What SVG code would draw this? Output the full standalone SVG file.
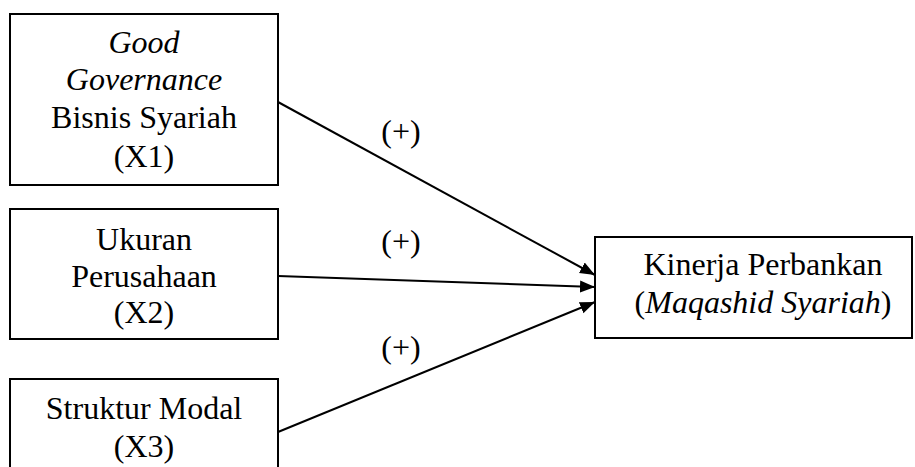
<svg xmlns="http://www.w3.org/2000/svg" width="915" height="467" viewBox="0 0 915 467">
<style>
.box{fill:#fff;stroke:#000;stroke-width:2}
.t{font-family:"Liberation Serif","Times New Roman",serif;font-size:32px;fill:#000;text-anchor:middle}
.i{font-style:italic}
.edge{stroke:#000;stroke-width:2;fill:none;marker-end:url(#ah)}
</style>
<defs>
<marker id="ah" markerUnits="userSpaceOnUse" markerWidth="16" markerHeight="14" refX="15" refY="7" orient="auto">
<path d="M0,1 L15,7 L0,13 Z" fill="#000"/>
</marker>
</defs>
<rect width="915" height="467" fill="#fff"/>
<g id="x1">
<rect class="box" x="10" y="14" width="268" height="171"/>
<text class="t i" x="144" y="53">Good</text>
<text class="t i" x="144" y="90">Governance</text>
<text class="t" x="144" y="128">Bisnis Syariah</text>
<text class="t" x="144" y="167">(X1)</text>
</g>
<g id="x2">
<rect class="box" x="10" y="209" width="268" height="130"/>
<text class="t" x="144" y="250">Ukuran</text>
<text class="t" x="144" y="287">Perusahaan</text>
<text class="t" x="144" y="323">(X2)</text>
</g>
<g id="x3">
<rect class="box" x="10" y="379" width="268" height="110"/>
<text class="t" x="144" y="419">Struktur Modal</text>
<text class="t" x="144" y="457">(X3)</text>
</g>
<g id="y">
<rect class="box" x="595" y="237" width="317" height="101"/>
<text class="t" x="763" y="275">Kinerja Perbankan</text>
<text class="t" x="763" y="313">(<tspan class="i">Maqashid Syariah</tspan>)</text>
</g>
<g id="connectors">
<line class="edge" x1="278" y1="102" x2="595" y2="275"/>
<line class="edge" x1="278" y1="276" x2="595" y2="287"/>
<line class="edge" x1="278" y1="432" x2="595" y2="302"/>
<text class="t" x="401" y="142">(+)</text>
<text class="t" x="401" y="252">(+)</text>
<text class="t" x="401" y="358">(+)</text>
</g>
</svg>
